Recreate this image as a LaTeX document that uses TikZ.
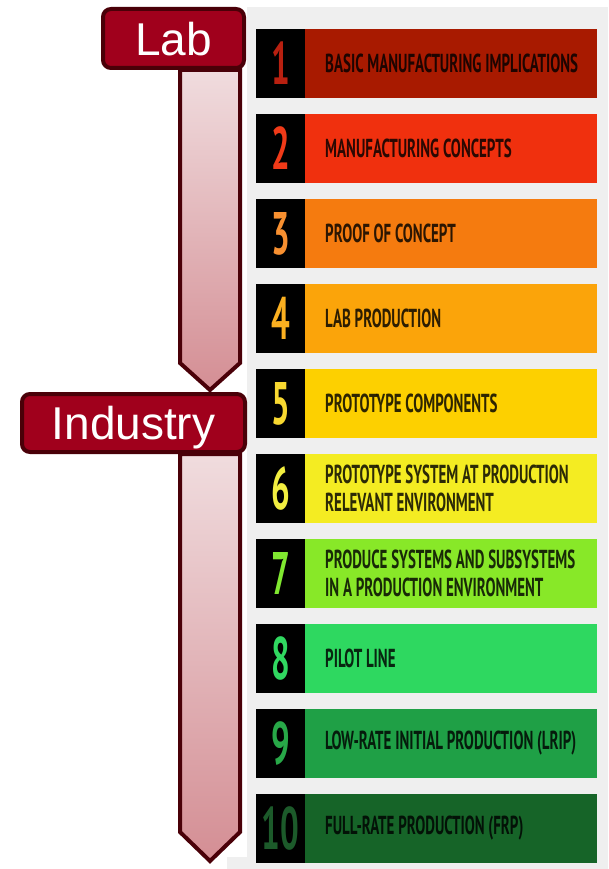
\documentclass[tikz,border=0pt]{standalone}
\usepackage{fontspec}
\setmainfont{Liberation Sans}
\newfontfamily\condfont[FakeStretch=0.575]{PT Sans}
\newfontfamily\numfont[FakeStretch=0.55]{PT Sans}
\definecolor{panelgray}{HTML}{EFEFEF}
\definecolor{tagfill}{HTML}{A0001C}
\definecolor{tagline}{HTML}{4A0008}
\definecolor{arrtop}{HTML}{F0DCDE}
\definecolor{arrbot}{HTML}{D48E94}
\definecolor{bA}{HTML}{A81A00}\definecolor{nA}{HTML}{B82010}
\definecolor{bB}{HTML}{F0300E}\definecolor{nB}{HTML}{F03A18}
\definecolor{bC}{HTML}{F57B0F}\definecolor{nC}{HTML}{F89030}
\definecolor{bD}{HTML}{FBA40A}\definecolor{nD}{HTML}{FBB020}
\definecolor{bE}{HTML}{FDD000}\definecolor{nE}{HTML}{F8D830}
\definecolor{bF}{HTML}{F4EC22}\definecolor{nF}{HTML}{F2EE40}
\definecolor{bG}{HTML}{88E828}\definecolor{nG}{HTML}{80E830}
\definecolor{bH}{HTML}{2ED860}\definecolor{nH}{HTML}{30D860}
\definecolor{bI}{HTML}{1FA046}\definecolor{nI}{HTML}{28A848}
\definecolor{bJ}{HTML}{166428}\definecolor{nJ}{HTML}{1C5A2A}
\begin{document}
\begin{tikzpicture}[x=1pt,y=-1pt,
  numbox/.style={fill=black,minimum width=49pt,minimum height=69pt,inner sep=0pt,outer sep=0pt,anchor=north west},
  barbox/.style={minimum width=292pt,minimum height=69pt,inner sep=0pt,outer sep=0pt,anchor=north west},
  numtext/.style={font=\numfont\bfseries\fontsize{60}{60}\selectfont,inner sep=0pt,text depth=0pt},
  bartext/.style={font=\condfont\bfseries\fontsize{26}{28}\selectfont,text=black,text opacity=0.82,align=left,anchor=west,inner sep=0pt},
  tag/.style={fill=tagfill,draw=tagline,line width=4pt,rounded corners=8pt,text=white,font=\fontsize{46}{46}\selectfont,inner sep=0pt,text depth=0pt},
  levarrow/.style={draw=tagline,line width=4pt,top color=arrtop,bottom color=arrbot,line join=miter}
]
\useasboundingbox (0,0) rectangle (608,869);
% panel
\fill[panelgray] (247,7) rectangle (608,869);
\fill[panelgray] (227,857) rectangle (247,869);
% levels
\foreach \k/\bc/\nc/\txt in {
  1/bA/nA/{BASIC MANUFACTURING IMPLICATIONS},
  2/bB/nB/{MANUFACTURING CONCEPTS},
  3/bC/nC/{PROOF OF CONCEPT},
  4/bD/nD/{LAB PRODUCTION},
  5/bE/nE/{PROTOTYPE COMPONENTS},
  6/bF/nF/{PROTOTYPE SYSTEM AT PRODUCTION\\RELEVANT ENVIRONMENT},
  7/bG/nG/{PRODUCE SYSTEMS AND SUBSYSTEMS\\IN A PRODUCTION ENVIRONMENT},
  8/bH/nH/{PILOT LINE},
  9/bI/nI/{LOW-RATE INITIAL PRODUCTION (LRIP)},
  10/bJ/nJ/{FULL-RATE PRODUCTION (FRP)}}{
  \pgfmathsetmacro{\top}{29+(\k-1)*85}
  \node[numbox] (num\k) at (256,\top) {};
  \node[barbox,fill=\bc] (bar\k) at (305,\top) {};
  \node[numtext,text=\nc] (digit\k) at (num\k.center) {\k};
  \node[bartext] (label\k) at ([xshift=20pt]bar\k.west) {\txt};
}
% arrows
\draw[levarrow] (180,70) -- (240,70) -- (240,363) -- (210,390) -- (180,363) -- cycle;
\draw[levarrow] (180,454) -- (240,454) -- (240,832) -- (210,861) -- (180,832) -- cycle;
% tags
\node[tag,minimum width=141pt,minimum height=59pt] (lab) at (173.5,38.5) {Lab};
\node[tag,minimum width=223pt,minimum height=58pt] (industry) at (133.5,423) {Industry};
\end{tikzpicture}
\end{document}
